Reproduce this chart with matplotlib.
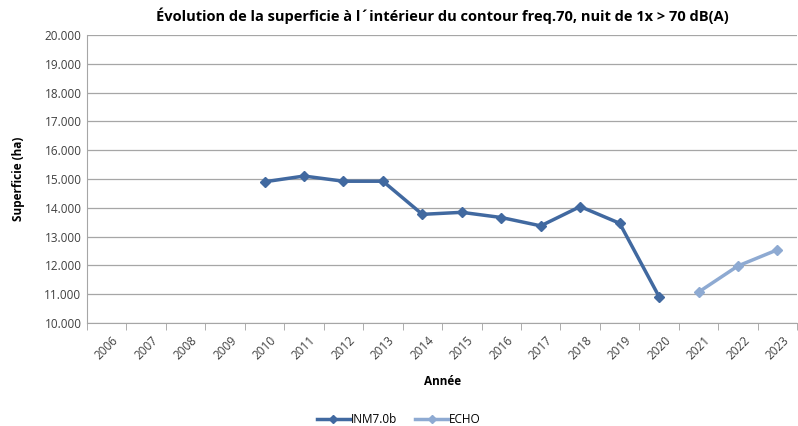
import matplotlib.pyplot as plt
import numpy as np

plt.rcParams['font.family'] = ['Open Sans', 'DejaVu Sans']

years = list(range(2006, 2024))
inm_years = [2010, 2011, 2012, 2013, 2014, 2015, 2016, 2017, 2018, 2019, 2020]
inm_vals = [14900, 15100, 14920, 14920, 13770, 13840, 13660, 13370, 14040, 13460, 10910]
echo_years = [2021, 2022, 2023]
echo_vals = [11070, 11980, 12540]

fig = plt.figure(figsize=(7.98, 4.26), dpi=100)
ax = fig.add_axes([0.109, 0.242, 0.89, 0.676])

pos = {y: i for i, y in enumerate(years)}
ax.plot([pos[y] for y in inm_years], inm_vals, color='#4169a0', lw=2.5,
        marker='D', ms=5, label='INM7.0b')
ax.plot([pos[y] for y in echo_years], echo_vals, color='#8eaad2', lw=2.5,
        marker='D', ms=5, label='ECHO')

ax.set_xlim(-0.5, len(years) - 0.5)
ax.set_ylim(10000, 20000)
ax.set_yticks(np.arange(10000, 20001, 1000))
ax.set_yticklabels([f"{v // 1000}.000" for v in range(10000, 20001, 1000)],
                   fontsize=8.5, color='#404040')
ax.set_xticks(range(len(years)))
ax.set_xticklabels([str(y) for y in years], rotation=45, fontsize=8.5,
                   color='#404040', ha='center')
ax.set_xticks(np.arange(-0.5, len(years)), minor=True)
ax.tick_params(axis='x', which='major', length=0, pad=8)
ax.tick_params(axis='x', which='minor', length=5, color='#a0a0a0')
ax.tick_params(axis='y', length=0, pad=4)

ax.grid(axis='y', color='#a6a6a6', lw=0.9)
ax.set_axisbelow(True)
for s in ['top', 'right']:
    ax.spines[s].set_visible(False)
ax.spines['left'].set_color('#a6a6a6')
ax.spines['bottom'].set_color('#a6a6a6')

ax.set_title("Évolution de la superficie à l\u00b4intérieur du contour freq.70, nuit de 1x > 70 dB(A)",
             fontsize=10.5, fontweight='bold', pad=10)
ax.set_ylabel("Superficie (ha)", fontsize=8.5, fontweight='bold', labelpad=14)
ax.set_xlabel("Année", fontsize=8.5, fontweight='bold', labelpad=9)

fig.legend(loc='lower center', bbox_to_anchor=(0.5, -0.025), ncol=2, frameon=False,
           fontsize=8.5, handlelength=2.8, handletextpad=0.1, columnspacing=1.5,
           markerscale=0.8)

fig.savefig('out.png', dpi=100)
